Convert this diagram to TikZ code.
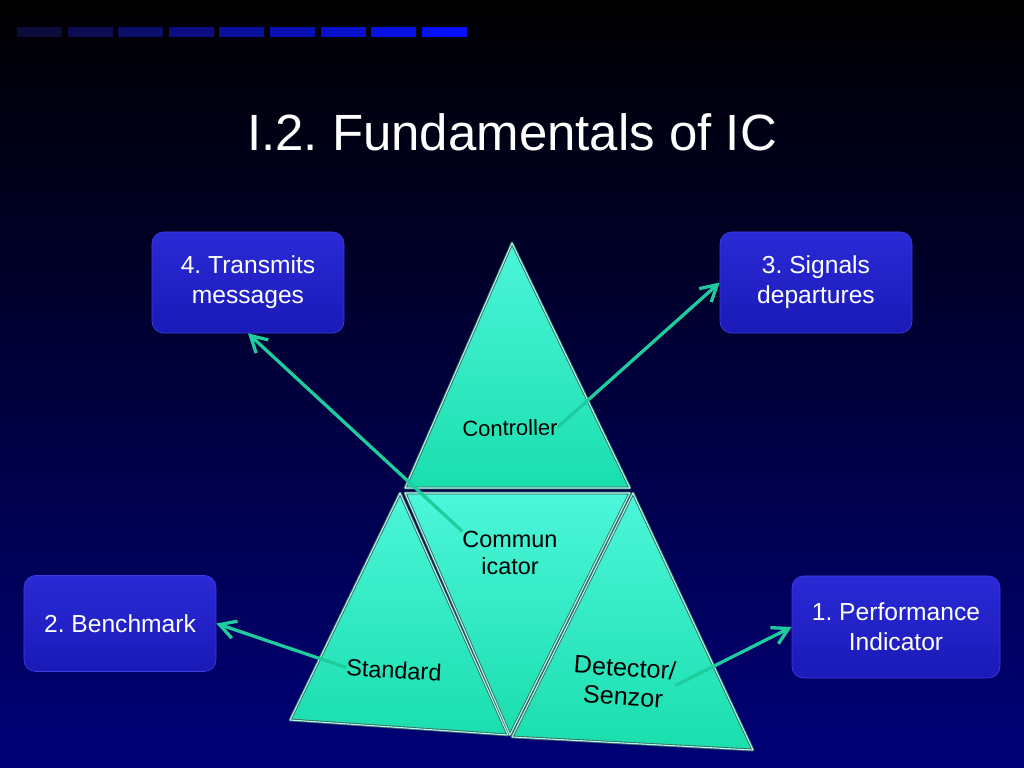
\documentclass[tikz,border=0pt]{standalone}
\usepackage{fontspec}
\setmainfont{Liberation Sans}
\usetikzlibrary{arrows.meta, positioning, calc}
\frenchspacing

\definecolor{bgbottom}{RGB}{0,0,120}
\definecolor{bgmid}{RGB}{3,3,62}
\definecolor{barstart}{RGB}{12,12,58}
\definecolor{barend}{RGB}{8,16,250}
\definecolor{boxtop}{RGB}{42,42,214}
\definecolor{boxbot}{RGB}{26,26,184}
\definecolor{boxline}{RGB}{62,62,222}
\definecolor{linkteal}{RGB}{30,204,158}
\definecolor{trilight}{RGB}{76,246,218}
\definecolor{tridark}{RGB}{26,222,174}
\definecolor{triedge}{RGB}{64,100,98}
\definecolor{trihigh}{RGB}{170,255,240}

\begin{document}
\begin{tikzpicture}[
		x=0.03cm, y=-0.03cm,
		box/.style={draw=boxline, line width=0.6pt, rounded corners=10pt, top color=boxtop, bottom color=boxbot, text=white, align=center, font=\fontsize{21}{25.6}\selectfont, minimum width=5.76cm},
		tri/.style={top color=trilight, bottom color=tridark, draw=triedge, line width=2.4pt, line join=round},
		bevel/.style={draw=trihigh, line width=0.9pt, line join=round},
		trilabel/.style={text=black, align=center, inner sep=0pt, font=\fontsize{20}{22.5}\selectfont},
		link/.style={draw=linkteal, line width=2.8pt, -{Straight Barb[length=4.8mm, width=5.4mm]}}
		]
		
		% Background and bars
		\shade[top color=black, middle color=bgmid, bottom color=bgbottom] (0,0) rectangle (1024,768);
		\foreach \i in {0,...,8} {
			\pgfmathsetmacro\p{100*\i/8}
			\fill[barend!\p!barstart] ({17+50.6*\i},27) rectangle +(45,10);
		}
		\node[text=white, font=\fontsize{43.5}{50}\selectfont, anchor=base] (title) at (512,151) {I.2. Fundamentals of IC};
		
		% Boxes
		\node[box, minimum height=3.03cm] (box4) at (248,282.5) {4. Transmits\\messages};
		\node[box, minimum height=3.03cm] (box3) at (816,282.5) {3. Signals\\departures};
		\node[box, minimum height=2.88cm] (box2) at (120,623.5) {2. Benchmark};
		\node[box, minimum height=3.06cm, minimum width=6.24cm] (box1) at (896,627) {1. Performance\\Indicator};
		
		% Pyramid
		\draw[tri] (512,243) -- (405,488) -- (630,488) -- cycle;
		\draw[tri] (400,493) -- (290,720) -- (508,735) -- cycle;
		\draw[tri] (405,493) -- (630,493) -- (510,735) -- cycle;
		\draw[tri] (633,493) -- (512,737) -- (753,750) -- cycle;
		\draw[bevel] (512,243) -- (405,488) -- (630,488) -- cycle;
		\draw[bevel] (400,493) -- (290,720) -- (508,735) -- cycle;
		\draw[bevel] (405,493) -- (630,493) -- (510,735) -- cycle;
		\draw[bevel] (633,493) -- (512,737) -- (753,750) -- cycle;
		
		% Labels
		\node[trilabel, font=\fontsize{18.7}{21}\selectfont, rotate=1] (ctrl) at (510,428) {Controller};
		\node[trilabel] (comm) at (510,553) {Commun\\icator};
		\node[trilabel, rotate=-3] (std) at (394,670) {Standard};
		\node[trilabel, rotate=-4, font=\fontsize{21.5}{25}\selectfont] (det) at (624,682) {Detector/\\Senzor};
		
		% Arrows
		\draw[link] (comm.north west) -- (box4.south);
		\draw[link] (ctrl.east) -- (box3.west);
		\draw[link] (std.west) -- (box2.east);
		\draw[link] (det.east) -- (box1.west);
		
	\end{tikzpicture}
\end{document}
